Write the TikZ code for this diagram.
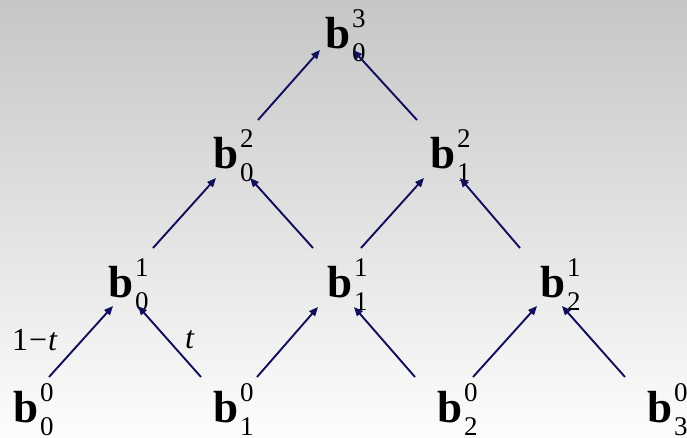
\documentclass[tikz,border=0pt]{standalone}
\usepackage{fontspec}
\setmainfont{Liberation Serif}
\usetikzlibrary{arrows.meta}
\definecolor{navy}{RGB}{14,14,92}
\definecolor{bgtop}{RGB}{198,198,198}
\definecolor{bgmid}{RGB}{234,234,234}
\definecolor{bgbot}{RGB}{253,253,253}
% point b with upper and lower index
\newcommand{\bpt}[2]{\textbf{b}\kern2pt\rlap{\raisebox{21pt}{\fontsize{27}{27}\selectfont #1}}\raisebox{-13pt}{\fontsize{27}{27}\selectfont #2}}

\begin{document}
\begin{tikzpicture}[x=1pt,y=-1pt,
   ctrl/.style={anchor=base west,inner sep=0pt,font=\fontsize{45}{45}\selectfont},
   wgt/.style={anchor=base west,inner sep=0pt,font=\fontsize{32}{32}\selectfont},
   link/.style={navy,line width=1.9pt,-{Triangle[length=9pt,width=7.5pt]}}]
   \useasboundingbox (0,0) rectangle (687,437);
   \shade[top color=bgtop,middle color=bgmid,bottom color=bgbot] (0,0) rectangle (687,437);
   % control points, level 0
   \node[ctrl] (b00) at (13,422) {\bpt{0}{0}};
   \node[ctrl] (b10) at (213,422) {\bpt{0}{1}};
   \node[ctrl] (b20) at (437,422) {\bpt{0}{2}};
   \node[ctrl] (b30) at (647,422) {\bpt{0}{3}};
   % level 1
   \node[ctrl] (b01) at (108,297) {\bpt{1}{0}};
   \node[ctrl] (b11) at (327,297) {\bpt{1}{1}};
   \node[ctrl] (b21) at (540,297) {\bpt{1}{2}};
   % level 2
   \node[ctrl] (b02) at (213,168) {\bpt{2}{0}};
   \node[ctrl] (b12) at (430,168) {\bpt{2}{1}};
   % level 3
   \node[ctrl] (b03) at (325,48) {\bpt{3}{0}};
   % weights
   \node[wgt] (w1) at (12,350) {1\kern1pt−\kern1pt\textit{t}};
   \node[wgt] (w2) at (185,348) {\textit{t}};
   % arrows 0 -> 1
   \draw[link] ([shift={(36,-45)}]b00.base west) -- ([shift={(5,9)}]b01.base west);
   \draw[link] ([shift={(-12,-45)}]b10.base west) -- ([shift={(30,9)}]b01.base west);
   \draw[link] ([shift={(44,-45)}]b10.base west) -- ([shift={(-9,10)}]b11.base west);
   \draw[link] ([shift={(-22,-45)}]b20.base west) -- ([shift={(27,10)}]b11.base west);
   \draw[link] ([shift={(36,-45)}]b20.base west) -- ([shift={(-3,9)}]b21.base west);
   \draw[link] ([shift={(-22,-45)}]b30.base west) -- ([shift={(22,9)}]b21.base west);
   % arrows 1 -> 2
   \draw[link] ([shift={(45,-49)}]b01.base west) -- ([shift={(3,10)}]b02.base west);
   \draw[link] ([shift={(-14,-49)}]b11.base west) -- ([shift={(37,10)}]b02.base west);
   \draw[link] ([shift={(34,-49)}]b11.base west) -- ([shift={(-6,10)}]b12.base west);
   \draw[link] ([shift={(-20,-49)}]b21.base west) -- ([shift={(30,10)}]b12.base west);
   % arrows 2 -> 3
   \draw[link] ([shift={(45,-48)}]b02.base west) -- ([shift={(-5,2)}]b03.base west);
   \draw[link] ([shift={(-13,-48)}]b12.base west) -- ([shift={(28,2)}]b03.base west);
\end{tikzpicture}
\end{document}
